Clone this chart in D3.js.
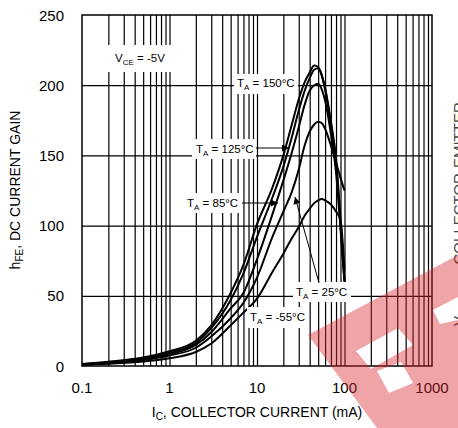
<!DOCTYPE html>
<html>
<head>
<meta charset="utf-8">
<script src="https://cdn.jsdelivr.net/npm/d3@7"></script>
<style>
  body { margin: 0; background: #fff; }
  text { font-family: "Liberation Sans", Arial, sans-serif; fill: #000; }
</style>
</head>
<body>
<div id="chart"></div>
<script>
// collector current, mA
var current = [0.1, 0.2, 0.5, 1, 2, 3, 5, 7, 10, 15, 20, 25, 30, 35, 40, 45, 50, 55, 60, 70, 80, 90, 100];
// hFE for each temperature
var gain150 = [1.5, 3, 6, 10.5, 18, 29, 52, 72, 101, 127, 150, 172, 190, 202, 209, 214, 213, 207, 198, 174, 148, 105, 62];
var gain125 = [1.3, 2.7, 5.5, 9.5, 16.5, 27, 47, 66, 92, 120, 142, 163, 182, 196, 205, 211, 212, 207, 197, 172, 145, 100, 60];
var gain85  = [1.2, 2.4, 5, 8.5, 15, 24, 41, 52, 76, 108, 132, 152, 170, 186, 196, 200, 201, 197, 189, 165, 138, 98, 60];
var gain25  = [1, 2, 4.2, 7.5, 13, 21, 34, 45, 63, 92, 110, 124, 140, 157, 167, 172, 174, 173, 169, 157, 145, 134, 125];
var gainM55 = [0.8, 1.6, 3.2, 5.5, 10, 16, 29, 38, 48, 67, 80, 91, 99, 107, 112, 116, 118, 119, 118, 115, 110, 104, 68];

var xTickLabels = ["0.1", "1", "10", "100", "1000"];
var yTickLabels = [0, 50, 100, 150, 200, 250];

var W = 458, H = 428;
var margin = {left: 82, right: 26, top: 15, bottom: 62};
var width = W - margin.left - margin.right,
    height = H - margin.top - margin.bottom;

var svg = d3.select("#chart").append("svg")
    .attr("width", W)
    .attr("height", H);

svg.append("defs").append("marker")
    .attr("id", "arr")
    .attr("viewBox", "0 0 10 10")
    .attr("refX", 10).attr("refY", 5)
    .attr("markerWidth", 9).attr("markerHeight", 7)
    .attr("markerUnits", "userSpaceOnUse")
    .attr("orient", "auto")
    .append("path").attr("d", "M0,0 L10,5 L0,10 Z").attr("fill", "#000");

var g = svg.append("g")
    .attr("transform", "translate(" + margin.left + "," + margin.top + ")");

var xScale = d3.scaleLog().domain([0.1, 1000]).range([0, width]);
var yScale = d3.scaleLinear().domain([0, 250]).range([height, 0]);

// grid: every 1..9 per decade
var gridX = [];
[0.1, 1, 10, 100].forEach(function(dec) {
    for (var k = 2; k <= 9; k++) gridX.push(dec * k);
});
[1, 10, 100].forEach(function(v) { gridX.push(v); });

g.append("g")
    .attr("transform", "translate(0," + height + ")")
    .call(d3.axisBottom(xScale).tickValues(gridX).tickSize(-height).tickFormat(""))
    .call(function(a) { a.select(".domain").remove(); })
    .selectAll("line").attr("stroke", "#000").attr("stroke-width", 1.2);

g.append("g")
    .call(d3.axisLeft(yScale).tickValues([50, 100, 150, 200]).tickSize(-width).tickFormat(""))
    .call(function(a) { a.select(".domain").remove(); })
    .selectAll("line").attr("stroke", "#000").attr("stroke-width", 1.2);

g.append("rect")
    .attr("width", width).attr("height", height)
    .attr("fill", "none").attr("stroke", "#000").attr("stroke-width", 1.5);

// tick labels
g.selectAll(".xl").data(xTickLabels).enter().append("text")
    .attr("x", function(d) { return xScale(+d); })
    .attr("y", height + 27)
    .attr("text-anchor", "middle")
    .attr("font-size", "15px")
    .text(function(d) { return d; });

g.selectAll(".yl").data(yTickLabels).enter().append("text")
    .attr("x", -18)
    .attr("y", function(d) { return yScale(d) + 5.5; })
    .attr("text-anchor", "end")
    .attr("font-size", "15px")
    .text(function(d) { return d; });

// white boxes behind labels (in page coordinates)
var boxes = [[106, 45, 66, 27], [234, 74, 64, 20], [192, 139, 64, 20], [184, 193, 58, 20], [293, 282, 58, 20], [247, 307, 62, 21]];
svg.selectAll(".box").data(boxes).enter().append("rect")
    .attr("x", function(d) { return d[0]; }).attr("y", function(d) { return d[1]; })
    .attr("width", function(d) { return d[2]; }).attr("height", function(d) { return d[3]; })
    .attr("fill", "#fff");

// curves
var line = d3.line()
    .x(function(d) { return xScale(d[0]); })
    .y(function(d) { return yScale(d[1]); })
    .curve(d3.curveMonotoneX);

[gain150, gain125, gain85, gain25, gainM55].forEach(function(s) {
    g.append("path")
        .datum(current.map(function(c, i) { return [c, s[i]]; }))
        .attr("d", line)
        .attr("fill", "none")
        .attr("stroke", "#000")
        .attr("stroke-width", 2);
});

// labels
function label(x, y, main, sub, rest) {
    var t = svg.append("text").attr("x", x).attr("y", y).attr("font-size", "11.5px");
    t.append("tspan").text(main);
    t.append("tspan").attr("dy", 3).attr("font-size", "8px").text(sub);
    t.append("tspan").attr("dy", -3).text(rest);
}
label(115, 62, "V", "CE", " = -5V");
label(237, 87, "T", "A", " = 150\u00B0C");
label(196, 153, "T", "A", " = 125\u00B0C");
label(187, 207, "T", "A", " = 85\u00B0C");
label(296, 296, "T", "A", " = 25\u00B0C");
label(250, 321, "T", "A", " = -55\u00B0C");

var arrows = [[256, 148, 289, 148], [242, 203, 278, 203], [319, 283, 295, 197]];
svg.selectAll(".arr").data(arrows).enter().append("line")
    .attr("x1", function(d) { return d[0]; }).attr("y1", function(d) { return d[1]; })
    .attr("x2", function(d) { return d[2]; }).attr("y2", function(d) { return d[3]; })
    .attr("stroke", "#000").attr("stroke-width", 1)
    .attr("marker-end", "url(#arr)");

// axis titles
var yt = svg.append("text")
    .attr("transform", "translate(20,190) rotate(-90)")
    .attr("text-anchor", "middle")
    .attr("font-size", "14px");
yt.append("tspan").text("h");
yt.append("tspan").attr("dy", 3).attr("font-size", "10px").text("FE");
yt.append("tspan").attr("dy", -3).text(", DC CURRENT GAIN");

var xt = svg.append("text")
    .attr("x", 257).attr("y", 417)
    .attr("text-anchor", "middle")
    .attr("font-size", "14px");
xt.append("tspan").text("I");
xt.append("tspan").attr("dy", 3).attr("font-size", "10px").text("C");
xt.append("tspan").attr("dy", -3).text(", COLLECTOR CURRENT (mA)");

// cut-off caption and neighbouring chart title
svg.append("text")
    .attr("x", 258).attr("y", 437)
    .attr("text-anchor", "middle")
    .attr("font-size", "12px")
    .style("fill", "#666")
    .text("Figure 1. DC Current Gain");

var rt = svg.append("text")
    .attr("transform", "translate(464,326) rotate(-90)")
    .attr("font-size", "15px")
    .style("fill", "#444");
rt.append("tspan").text("V");
rt.append("tspan").attr("dy", 3).attr("font-size", "11px").text("CE(SAT)");
rt.append("tspan").attr("dy", -3).text(", COLLECTOR-EMITTER");

// watermark
svg.append("path")
    .attr("d", "M308,335 L458,255 L458,428 L377,428 Z " +
               "M356,351 L398,328 L413,345 L371,369 Z " +
               "M377,371 L401,362 L413,383 L389,393 Z " +
               "M433,310 L458,297 L458,320 L440,324 Z")
    .attr("fill", "#d9262e")
    .attr("fill-rule", "evenodd")
    .attr("opacity", 0.42);
</script>
</body>
</html>
